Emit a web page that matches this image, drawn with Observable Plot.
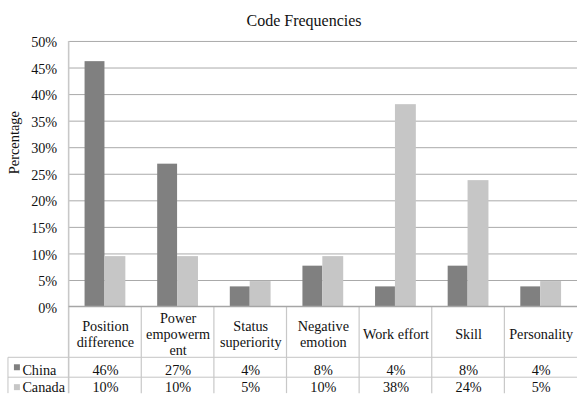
<!DOCTYPE html>
<html><head><meta charset="utf-8">
<script src="https://cdn.jsdelivr.net/npm/d3@7"></script>
<script src="https://cdn.jsdelivr.net/npm/@observablehq/plot@0.6"></script>
<style>
html,body{margin:0;padding:0;background:#fff;overflow:hidden;width:577px;height:395px}
#title{height:33px;width:608px;text-align:center;font:16px "Liberation Serif",serif;line-height:16px;padding-top:13px;box-sizing:border-box;color:#111}
#chart svg{display:block}
#chart svg text{font-family:"Liberation Serif","Times New Roman",serif !important}
</style></head><body>
<div id="title">Code Frequencies</div>
<div id="chart"></div>
<script>
const categories = ["Position difference","Power empowerment","Status superiority","Negative emotion","Work effort","Skill","Personality"];
const categoryLabels = ["Position\ndifference","Power\nempowerm\nent","Status\nsuperiority","Negative\nemotion","Work effort","Skill","Personality"];
const series = ["China","Canada"];
const china = [46.2, 26.9, 3.8, 7.7, 3.8, 7.7, 3.8];
const canada = [9.5, 9.5, 4.8, 9.5, 38.1, 23.8, 4.8];
const chinaLabels = ["46%","27%","4%","8%","4%","8%","4%"];
const canadaLabels = ["10%","10%","5%","10%","38%","24%","5%"];
const yTicks = [0,5,10,15,20,25,30,35,40,45,50];
const colors = ["#808080","#c6c6c6"];

const W = 580, H = 362, mL = 69, mR = 0, mT = 8, mB = 87;
const bw = (W - mL - mR) / categories.length;
const rows = categories.map((c, i) => ({
  category: c, label: categoryLabels[i], china: china[i], canada: canada[i],
  chinaLabel: chinaLabels[i], canadaLabel: canadaLabels[i]
}));
const rowOffsets = [64, 81];
const swatchOffsets = [61, 81];
const rowLines = [51, 71];
const serif = "'Liberation Serif', 'Times New Roman', serif";

function tableGrid(index, scales, values, dims) {
  const x = scales.x, y = scales.y;
  const y0 = y(0);
  const xl = dims.marginLeft, xr = dims.width - dims.marginRight;
  const g = d3.create("svg:g");
  const line = (x1, y1, x2, y2, stroke, w) => g.append("line")
    .attr("x1", x1).attr("y1", y1).attr("x2", x2).attr("y2", y2)
    .attr("stroke", stroke).attr("stroke-width", w);
  rowLines.forEach(o => line(xl - 61, y0 + o, xr, y0 + o, "#c4c4c4", 1));
  line(xl - 61, y0 + rowLines[0], xl - 61, dims.height, "#c4c4c4", 1);
  categories.forEach((c, i) => {
    const xv = x(c);
    line(xv, i === 0 ? y(yTicks[yTicks.length - 1]) : y0, xv, dims.height, "#c8c8c8", i === 0 ? 1.6 : 1.2);
  });
  line(xl, y0, xr, y0, "#a6a6a6", 1.6);
  series.forEach((s, i) => {
    g.append("rect").attr("x", xl - 55).attr("y", y0 + swatchOffsets[i] - 3)
      .attr("width", 6).attr("height", 6).attr("fill", colors[i]);
  });
  return g.node();
}

const txt = {fontSize: 14.3, fill: "#111", fontFamily: serif, lineAnchor: "middle"};
const chart = Plot.plot({
  width: W, height: H, marginLeft: mL, marginRight: mR, marginTop: mT, marginBottom: mB,
  style: {fontFamily: serif, background: "#fff", color: "#111", overflow: "visible"},
  x: {domain: categories, padding: 0, axis: null},
  y: {domain: [0, 50], axis: null},
  marks: [
    Plot.ruleY(yTicks.filter(t => t > 0), {y: d => d, stroke: "#a9a9a9", strokeWidth: 1}),
    Plot.barY(rows, {x: "category", y: "china", fill: colors[0], insetLeft: bw * 16 / 73, insetRight: bw * 37 / 73}),
    Plot.barY(rows, {x: "category", y: "canada", fill: colors[1], insetLeft: bw * 36 / 73, insetRight: bw * 16 / 73}),
    tableGrid,
    Plot.text(yTicks, {y: d => d, text: d => d + "%", frameAnchor: "left", dx: -12, dy: 1, textAnchor: "end", ...txt}),
    Plot.text(["Percentage"], {frameAnchor: "left", dx: -55, rotate: -90, ...txt, fontSize: 14.5}),
    Plot.text(rows, {x: "category", text: "label", frameAnchor: "bottom", dy: 27, lineHeight: 1.12, ...txt}),
    Plot.text(rows, {x: "category", text: "chinaLabel", frameAnchor: "bottom", dy: rowOffsets[0], ...txt}),
    Plot.text(rows, {x: "category", text: "canadaLabel", frameAnchor: "bottom", dy: rowOffsets[1], ...txt}),
    Plot.text([series[0]], {frameAnchor: "bottom-left", dx: -47, dy: rowOffsets[0], textAnchor: "start", ...txt}),
    Plot.text([series[1]], {frameAnchor: "bottom-left", dx: -47, dy: rowOffsets[1], textAnchor: "start", ...txt})
  ]
});
document.getElementById("chart").appendChild(chart);
</script>
</body></html>
